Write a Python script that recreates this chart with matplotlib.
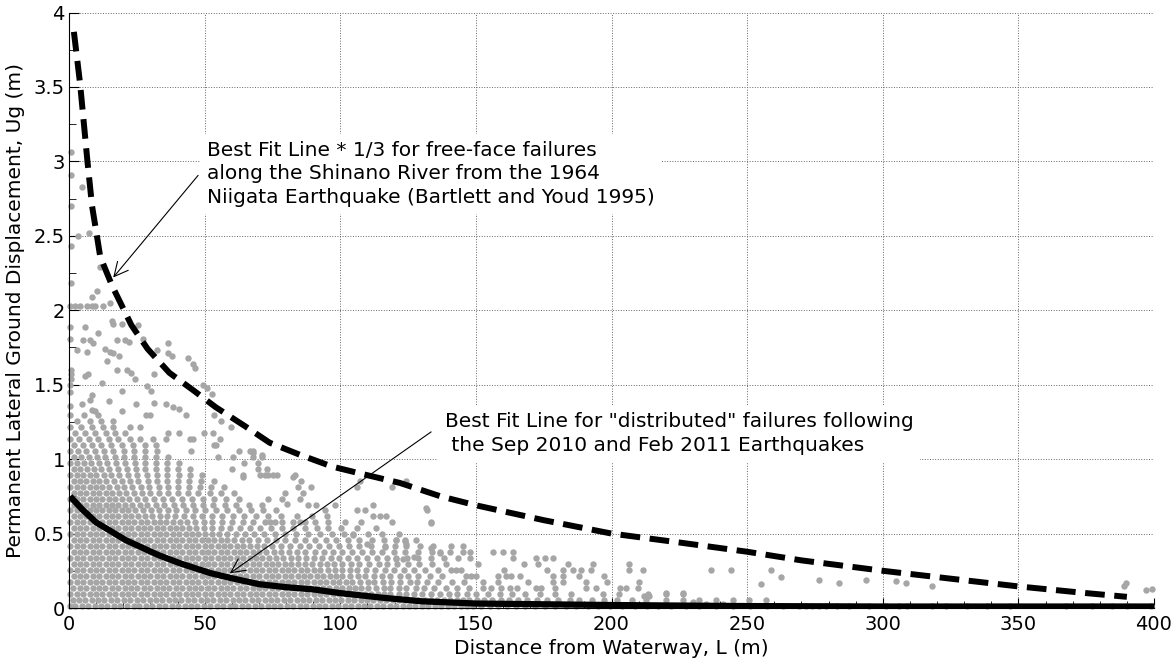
import matplotlib
matplotlib.use('Agg')
from matplotlib import pyplot as plt
from matplotlib.ticker import MultipleLocator

# best fit line * 1/3, free-face failures, Shinano River
bf_x = [1.8, 4.1, 6.8, 8.5, 10.2, 11.5, 16, 23, 29, 37, 46, 54, 65, 74, 85, 97, 107,
        122, 137, 150, 175, 200, 225, 250, 270, 300, 325, 350, 375, 390]
bf_y = [3.87, 3.52, 3.0, 2.70, 2.51, 2.36, 2.16, 1.90, 1.74, 1.58, 1.46, 1.35, 1.22, 1.11,
        1.03, 0.95, 0.905, 0.84, 0.75, 0.69, 0.59, 0.50, 0.44, 0.378, 0.32, 0.25, 0.197,
        0.145, 0.10, 0.075]

# best fit line for "distributed" failures
df_x = [0.4, 5, 10, 21, 33, 41, 52, 60, 70, 80, 90, 100, 115, 130, 150, 175, 200, 250,
        300, 350, 400]
df_y = [0.75, 0.66, 0.575, 0.455, 0.355, 0.30, 0.235, 0.20, 0.16, 0.14, 0.125, 0.10, 0.07,
        0.045, 0.03, 0.025, 0.02, 0.013, 0.01, 0.01, 0.01]

# measured displacements, dense part kept as rows: one y level, many x positions
row_y = [0.015, 0.055, 0.095, 0.135, 0.175, 0.215, 0.255, 0.295, 0.335, 0.375, 0.415,
         0.455, 0.495, 0.535, 0.575, 0.615, 0.655, 0.695, 0.735, 0.775, 0.815, 0.855,
         0.895, 0.935, 0.975, 1.015, 1.055, 1.095, 1.135, 1.175, 1.215, 1.255, 1.295]
row_x = [
    [0.4, 2.3, 4.9, 7.0, 9.6, 11.8, 14.1, 16.7, 18.9, 21.3, 23.8, 25.9, 28.4, 30.6, 33.2,
     35.3, 37.9, 40.1, 42.6, 44.8, 47.3, 49.6, 51.9, 54.4, 56.6, 59.2, 61.3, 63.8, 66.1,
     68.5, 70.9, 73.2, 75.7, 77.9, 80.4, 82.6, 85.1, 87.4, 89.8, 92.2, 94.5, 97.0, 99.2,
     101.7, 104.0, 106.4, 108.8, 111.1, 113.6, 115.8, 118.3, 120.6, 123.0, 125.4, 127.7,
     130.2, 132.5, 134.9, 137.3, 139.6, 142.1, 144.4, 146.9, 149.1, 152.0, 155.3, 158.2,
     161.6, 164.8, 168.0, 171.9, 175.4, 179.0, 183.2, 186.9, 191.3, 195.1, 199.6, 203.7,
     208.5, 213.0, 217.2, 221.9, 227.5, 232.1, 238.4, 244.7, 251.0, 257.3, 263.1, 269.2,
     271.7, 274.1, 276.6, 279.0, 283.3, 287.6, 295.0, 301.1, 306.0, 309.1, 318.3, 323.2,
     331.2, 338.5, 347.0, 367.4, 377.2, 384.6, 390.1, 399.0],
    [1.3, 3.6, 6.0, 8.4, 10.7, 13.0, 15.5, 17.8, 20.1, 22.6, 24.9, 27.2, 29.7, 32.0, 34.3,
     36.7, 39.1, 41.4, 43.9, 46.1, 48.5, 50.9, 53.2, 55.6, 57.9, 60.3, 62.7, 65.0, 67.4,
     69.7, 72.1, 74.5, 76.8, 79.2, 81.5, 83.9, 86.3, 88.6, 91.0, 93.3, 95.7, 98.1, 100.4,
     102.8, 105.1, 107.5, 109.9, 112.2, 114.6, 116.9, 119.3, 121.7, 124.0, 126.4, 128.7,
     131.1, 133.5, 135.8, 138.2, 140.5, 142.9, 145.3, 147.6, 150.3, 153.0, 156.1, 159.4,
     162.2, 165.6, 168.9, 172.5, 176.3, 180.1, 184.6, 188.0, 192.7, 197.2, 201.9, 207.4,
     212.8, 220.1, 226.3, 232.4, 238.5, 244.7, 250.8, 257.0],
    [0.5, 2.8, 5.2, 7.6, 9.9, 12.3, 14.7, 17.0, 19.4, 21.7, 24.1, 26.5, 28.8, 31.2, 33.5,
     35.9, 38.3, 40.6, 43.0, 45.3, 47.7, 50.1, 52.4, 54.8, 57.1, 59.5, 61.9, 64.2, 66.6,
     68.9, 71.3, 73.7, 76.0, 78.4, 80.7, 83.1, 85.5, 87.8, 90.2, 92.5, 94.9, 97.3, 99.6,
     102.0, 104.3, 106.7, 109.1, 111.4, 113.8, 116.1, 118.5, 121.5, 124.2, 127.3, 130.1,
     133.4, 136.6, 140.2, 143.0, 146.8, 150.1, 154.5, 158.9, 163.4, 168.2, 173.6, 179.0,
     185.0, 196.8, 202.9, 213.4, 220.1, 226.3],
    [1.6, 4.0, 6.3, 8.7, 11.1, 13.4, 15.8, 18.1, 20.5, 22.9, 25.2, 27.6, 29.9, 32.3, 34.7,
     37.0, 39.4, 41.7, 44.1, 46.5, 48.8, 51.2, 53.5, 55.9, 58.3, 60.6, 63.0, 65.3, 67.7,
     70.1, 72.4, 74.8, 77.1, 79.5, 81.9, 84.2, 86.6, 88.9, 91.3, 93.7, 96.0, 98.4, 100.7,
     103.1, 105.5, 107.8, 110.2, 113.1, 116.0, 118.4, 121.6, 124.3, 127.8, 131.0, 134.5,
     138.9, 143.1, 147.3, 152.6, 155.6, 159.3, 162.4, 165.0, 172.2, 174.1, 179.0, 190.6,
     194.3, 203.0, 205.4, 209.7],
    [0.5, 2.9, 5.3, 7.6, 10.0, 12.3, 14.7, 17.1, 19.4, 21.8, 24.1, 26.5, 28.9, 31.2, 33.6,
     35.9, 38.3, 40.7, 43.0, 45.4, 47.7, 50.1, 52.5, 54.8, 57.2, 59.5, 61.9, 64.3, 66.6,
     69.0, 71.3, 73.7, 76.1, 78.4, 80.8, 83.1, 85.5, 87.9, 90.2, 92.6, 94.9, 97.3, 99.7,
     102.0, 104.4, 107.3, 110.1, 112.6, 115.9, 118.7, 122.0, 125.6, 128.3, 131.9, 136.1,
     141.3, 145.6, 152.6, 158.1, 169.1, 178.3, 182.0, 190.6, 198.5, 210.3],
    [1.7, 4.1, 6.4, 8.8, 11.2, 13.5, 15.9, 18.2, 20.6, 23.0, 25.3, 27.7, 30.0, 32.4, 34.8,
     37.1, 39.5, 41.8, 44.2, 46.6, 48.9, 51.3, 53.6, 56.0, 58.4, 60.7, 63.1, 65.4, 67.8,
     70.2, 72.5, 74.9, 77.2, 79.6, 82.0, 84.3, 86.7, 89.0, 91.4, 93.8, 96.1, 98.5, 100.8,
     103.6, 106.5, 109.1, 112.4, 115.3, 118.2, 121.9, 125.0, 128.6, 133.0, 137.4, 146.4,
     148.3, 150.1, 158.1, 161.2, 163.0, 166.1, 178.3, 182.0, 188.2, 197.4],
    [0.5, 2.9, 5.3, 7.6, 10.0, 12.3, 14.7, 17.1, 19.4, 21.8, 24.1, 26.5, 28.9, 31.2, 33.6,
     35.9, 38.3, 40.7, 43.0, 45.4, 47.7, 50.1, 52.5, 54.8, 57.2, 59.5, 61.9, 64.3, 66.6,
     69.0, 71.3, 73.7, 76.1, 78.4, 80.8, 83.1, 85.5, 87.9, 90.2, 92.6, 95.3, 98.0, 100.6,
     103.7, 106.2, 109.5, 112.8, 116.4, 119.8, 123.5, 127.2, 131.4, 136.0, 140.9, 142.7,
     144.6, 160.5, 176.2, 182.1, 185.7, 188.8, 192.5, 206.6, 211.5, 236.7, 244.1, 258.8],
    [1.7, 4.1, 6.4, 8.8, 11.2, 13.5, 15.9, 18.2, 20.6, 23.0, 25.3, 27.7, 30.0, 32.4, 34.8,
     37.1, 39.5, 41.8, 44.2, 46.6, 48.9, 51.3, 53.6, 56.0, 58.4, 60.7, 63.1, 65.4, 67.8,
     70.2, 72.5, 74.9, 77.2, 79.6, 82.0, 84.3, 86.9, 89.6, 92.4, 95.0, 97.8, 100.8, 104.1,
     107.0, 110.5, 114.2, 117.4, 121.0, 125.1, 129.0, 134.0, 139.0, 150.7, 167.9, 172.8,
     183.9, 193.1, 206.6],
    [0.5, 2.9, 5.3, 7.6, 10.0, 12.3, 14.7, 17.1, 19.4, 21.8, 24.1, 26.5, 28.9, 31.2, 33.6,
     35.9, 38.3, 40.7, 43.0, 45.4, 47.7, 50.1, 52.5, 54.8, 57.2, 59.5, 61.9, 64.3, 66.6,
     69.0, 71.3, 73.7, 76.4, 79.0, 81.8, 84.5, 87.5, 90.3, 93.4, 96.6, 99.5, 103.0, 106.1,
     109.8, 113.4, 117.2, 120.7, 124.6, 128.8, 133.5, 138.2, 143.4, 148.0, 163.6, 172.2,
     175.3, 178.3],
    [1.7, 4.1, 6.4, 8.8, 11.2, 13.5, 15.9, 18.2, 20.6, 23.0, 25.3, 27.7, 30.0, 32.4, 34.8,
     37.1, 39.5, 41.8, 44.2, 46.6, 48.9, 51.3, 53.6, 56.0, 58.4, 60.7, 63.1, 65.4, 67.8,
     70.2, 72.8, 75.5, 78.1, 81.0, 84.2, 87.1, 90.6, 93.9, 97.3, 100.6, 104.4, 107.9,
     111.6, 115.5, 119.7, 124.0, 128.5, 133.9, 136.7, 140.3, 145.2, 147.7, 156.2, 159.9,
     163.6],
    [0.5, 2.9, 5.3, 7.6, 10.0, 12.3, 14.7, 17.1, 19.4, 21.8, 24.1, 26.5, 28.9, 31.2, 33.6,
     35.9, 38.3, 40.7, 43.0, 45.4, 47.7, 50.1, 52.5, 54.8, 57.2, 59.5, 61.9, 64.3, 66.6,
     69.3, 72.0, 75.0, 78.2, 81.6, 85.0, 88.3, 92.1, 95.7, 99.4, 103.1, 107.0, 111.2,
     116.4, 120.0, 124.4, 129.3, 134.2, 140.9, 145.2],
    [1.7, 4.1, 6.4, 8.8, 11.2, 13.5, 15.9, 18.2, 20.6, 23.0, 25.3, 27.7, 30.0, 32.4, 34.8,
     37.1, 39.5, 41.8, 44.2, 46.6, 48.9, 51.3, 53.6, 56.0, 58.4, 60.9, 63.6, 66.5, 69.6,
     72.9, 76.2, 79.8, 83.5, 87.1, 90.8, 94.6, 98.4, 102.8, 107.0, 111.7, 116.3, 120.7,
     123.8, 128.0],
    [0.5, 2.9, 5.3, 7.6, 10.0, 12.3, 14.7, 17.1, 19.4, 21.8, 24.1, 26.5, 28.9, 31.2, 33.6,
     35.9, 38.3, 40.7, 43.0, 45.4, 47.7, 50.1, 52.6, 55.3, 58.2, 61.4, 64.8, 68.3, 72.0,
     75.8, 79.6, 83.7, 88.0, 92.4, 96.8, 101.5, 104.8, 110.2, 115.3, 121.8],
    [1.7, 4.1, 6.4, 8.8, 11.2, 13.5, 15.9, 18.2, 20.6, 23.0, 25.3, 27.7, 30.0, 32.4, 34.8,
     37.1, 39.5, 41.8, 44.2, 46.9, 49.8, 52.7, 56.0, 59.4, 62.9, 66.6, 70.4, 74.5, 78.4,
     82.7, 87.0, 91.5, 95.5, 100.4, 106.0, 113.2],
    [0.5, 2.9, 5.3, 7.6, 10.0, 12.3, 14.7, 17.1, 19.4, 21.8, 24.1, 26.5, 28.9, 31.2, 33.6,
     35.9, 38.3, 40.9, 43.6, 46.5, 49.6, 52.8, 56.5, 60.2, 64.1, 68.0, 72.3, 74.1, 75.9,
     78.4, 82.7, 85.1, 87.0, 90.6, 95.5, 101.6, 107.8, 118.9, 133.6],
    [1.7, 4.1, 6.4, 8.8, 11.2, 13.5, 15.9, 18.2, 20.6, 23.0, 25.3, 27.9, 30.6, 33.4, 36.2,
     39.1, 42.3, 45.6, 49.0, 52.7, 56.4, 60.5, 64.6, 69.0, 73.5, 78.1, 84.0, 89.5, 95.0,
     112.1, 114.6, 117.0],
    [0.5, 2.9, 5.3, 7.6, 10.0, 12.3, 14.7, 17.1, 19.4, 21.8, 24.5, 27.2, 30.1, 33.2, 36.4,
     39.6, 43.0, 46.4, 50.2, 54.1, 58.2, 62.5, 67.0, 71.6, 76.2, 94.3, 106.0, 109.0, 131.8],
    [1.7, 4.1, 6.4, 8.8, 11.2, 13.5, 15.9, 18.2, 20.6, 23.2, 26.0, 28.9, 32.0, 35.2, 38.6,
     42.0, 45.6, 49.3, 53.2, 57.4, 61.7, 66.3, 71.0, 88.2, 91.2, 98.0, 112.1],
    [0.5, 2.9, 5.3, 7.6, 10.0, 12.3, 14.7, 17.1, 19.6, 22.3, 25.1, 28.2, 31.4, 34.8, 38.1,
     41.7, 45.5, 49.4, 53.5, 57.9, 62.5, 73.5, 78.4, 85.1],
    [1.7, 4.1, 6.4, 8.8, 11.2, 13.5, 15.9, 18.4, 21.1, 23.9, 26.8, 29.9, 33.1, 36.5, 40.0,
     43.8, 47.6, 51.8, 56.0, 60.7, 79.6, 86.3],
    [0.5, 2.9, 5.3, 7.6, 10.0, 12.3, 14.9, 17.6, 20.4, 23.3, 26.4, 29.6, 33.0, 36.5, 40.3,
     44.2, 48.3, 52.5, 57.0, 84.5, 89.4, 106.0, 118.9],
    [1.7, 4.1, 6.4, 8.8, 11.2, 13.8, 16.5, 19.4, 22.4, 25.6, 29.0, 32.6, 36.3, 40.2, 44.4,
     48.7, 53.3, 85.7, 107.2, 124.4],
    [0.5, 2.9, 5.3, 7.6, 10.1, 12.8, 15.6, 18.6, 21.8, 25.1, 28.6, 32.3, 36.2, 40.4, 44.6,
     49.1, 64.1, 70.4, 72.2, 73.5, 75.3, 76.5, 83.3],
    [1.7, 4.1, 6.5, 9.1, 11.9, 14.8, 17.9, 21.2, 24.6, 28.2, 32.0, 36.1, 40.2, 44.7, 60.0,
     69.8, 72.9],
    [0.5, 2.9, 5.5, 8.2, 11.0, 14.0, 17.2, 20.6, 24.2, 28.0, 31.9, 36.1, 40.5, 64.5, 69.8],
    [1.7, 4.4, 7.2, 10.2, 13.4, 16.8, 20.4, 24.1, 28.0, 32.1, 36.5, 55.0, 60.4, 67.9, 71.0],
    [0.5, 3.3, 6.3, 9.5, 12.9, 16.4, 20.1, 24.0, 28.1, 32.6, 45.0, 62.6, 66.9, 67.8],
    [1.9, 5.0, 8.4, 11.9, 15.6, 19.5, 23.6, 27.9, 32.1, 53.5, 54.1],
    [0.5, 3.7, 7.2, 10.8, 14.9, 18.2, 22.5, 26.1, 30.9, 35.6, 44.5, 45.7, 55.6],
    [2.2, 5.8, 9.6, 13.6, 17.0, 20.6, 36.5, 40.7, 49.8, 53.0],
    [0.5, 4.6, 8.4, 12.5, 16.4, 22.5, 26.0, 59.7],
    [3.0, 7.6, 11.8, 16.1, 56.1],
    [0.5, 5.6, 10.8, 28.5, 29.7, 43.2, 53.6],
]

# loose points read one by one (x in m, y in m)
loose_pts = [
    (0.7, 3.06), (0.7, 2.91), (4.8, 2.83), (0.7, 2.70), (3.3, 2.50), (7.4, 2.52),
    (0.7, 2.43), (11.4, 2.29), (0.7, 2.18), (10.3, 2.13), (8.5, 2.09), (0.4, 2.03),
    (2.2, 2.03), (4.0, 2.03), (6.6, 2.03), (8.5, 2.03), (9.6, 2.03), (12.5, 2.03),
    (15.1, 2.05), (15.8, 1.93), (16.2, 1.91), (19.5, 1.91), (25.4, 1.90), (5.9, 1.89),
    (0.4, 1.89), (10.7, 1.85), (0.4, 1.81), (5.3, 1.80), (7.7, 1.80), (9.0, 1.78),
    (17.7, 1.80), (20.8, 1.80), (22.0, 1.79), (27.3, 1.81), (36.5, 1.78), (13.3, 1.74),
    (2.9, 1.73), (6.6, 1.72), (15.1, 1.72), (16.3, 1.71), (18.4, 1.69), (14.1, 1.66),
    (32.4, 1.73), (36.5, 1.71), (37.8, 1.69), (43.8, 1.68), (45.7, 1.64), (46.4, 1.61),
    (0.6, 1.60), (0.6, 1.57), (0.6, 1.54), (5.9, 1.56), (7.1, 1.57), (17.7, 1.60),
    (21.4, 1.60), (22.7, 1.58), (24.5, 1.54), (31.3, 1.57), (12.2, 1.51), (28.6, 1.49),
    (30.4, 1.46), (49.4, 1.50), (50.8, 1.48), (52.7, 1.44), (19.6, 1.46), (8.4, 1.43),
    (7.8, 1.40), (14.9, 1.39), (24.7, 1.37), (31.5, 1.38), (35.8, 1.37), (38.2, 1.35),
    (40.7, 1.34), (4.7, 1.37), (8.4, 1.33), (9.6, 1.32), (19.6, 1.32), (0.5, 1.36),
    (0.5, 1.45), (0.5, 1.50), (67.9, 1.04), (71.0, 1.03), (64.1, 0.88), (82.6, 0.88),
    (80.2, 0.70), (104.8, 0.49), (109.7, 0.43), (116.4, 0.41), (120.7, 0.46), (123.7, 0.45),
    (124.4, 0.43), (133.6, 0.40), (136.7, 0.37), (131.7, 0.67), (133.6, 0.57), (120.7, 0.33),
    (123.2, 0.33), (127.2, 0.34), (255.1, 0.16), (262.5, 0.21), (226.3, 0.10), (220.1, 0.10),
    (214.0, 0.08), (212.1, 0.08), (229.9, 0.04), (234.8, 0.03), (241.0, 0.03),
    (276.6, 0.19), (283.9, 0.17), (293.8, 0.19), (304.8, 0.18), (308.5, 0.17),
    (318.1, 0.15), (388.9, 0.15), (389.5, 0.17), (396.9, 0.12), (399.3, 0.13),
]

txt_upper = ('Best Fit Line * 1/3 for free-face failures\n'
             'along the Shinano River from the 1964\n'
             'Niigata Earthquake (Bartlett and Youd 1995)')
txt_lower = ('Best Fit Line for "distributed" failures following\n'
             ' the Sep 2010 and Feb 2011 Earthquakes')

xticks = [0, 50, 100, 150, 200, 250, 300, 350, 400]
yticks = [0, 0.5, 1, 1.5, 2, 2.5, 3, 3.5, 4]
ytick_labels = ['0', '0.5', '1', '1.5', '2', '2.5', '3', '3.5', '4']

# collect all the points
pts_x = [p[0] for p in loose_pts]
pts_y = [p[1] for p in loose_pts]
for yy, xs in zip(row_y, row_x):
    pts_x += xs
    pts_y += [yy] * len(xs)

fig = plt.figure(figsize=(11.72, 6.63), dpi=100)
ax = fig.add_axes([69 / 1172, 55 / 663, 1085 / 1172, 595.5 / 663])

ax.plot(pts_x, pts_y, 'o', ms=4.6, color='#a6a6a6', mec='none', clip_on=False, zorder=2)
ax.plot(bf_x, bf_y, color='black', lw=4.3, dashes=(3.3, 1.6), dash_capstyle='butt', zorder=3)
ax.plot(df_x, df_y, color='black', lw=4.5, solid_capstyle='butt', zorder=3)

box = dict(boxstyle='square,pad=0.35', fc='white', ec='none')
ax.text(50.8, 2.917, txt_upper, ha='left', va='center', fontsize=14.5,
        linespacing=1.3, bbox=box, zorder=4)
ax.text(138.5, 1.172, txt_lower, ha='left', va='center', fontsize=14.5,
        linespacing=1.3, bbox=box, zorder=4)

arrow = dict(arrowstyle='->,head_length=0.5,head_width=0.25', lw=0.8, color='black',
             shrinkA=0, shrinkB=0, mutation_scale=20)
ax.annotate('', xy=(16.3, 2.22), xytext=(47.6, 2.906), arrowprops=arrow, zorder=5)
ax.annotate('', xy=(59.3, 0.233), xytext=(133.5, 1.183), arrowprops=arrow, zorder=5)

ax.set_xlim(0, 400)
ax.set_ylim(0, 4)
ax.set_xticks(xticks)
ax.set_yticks(yticks)
ax.set_yticklabels(ytick_labels)
ax.xaxis.set_minor_locator(MultipleLocator(10))
ax.yaxis.set_minor_locator(MultipleLocator(0.25))
ax.tick_params(which='both', direction='in', labelsize=14, color='black')
ax.tick_params(which='major', length=7)
ax.tick_params(which='minor', length=5)
ax.tick_params(axis='x', pad=5)
ax.tick_params(axis='y', pad=3)

ax.grid(True, which='major', ls=':', color='0.4', lw=0.7)
ax.set_axisbelow(True)
for side in ['top', 'right']:
    ax.spines[side].set_visible(False)
for side in ['left', 'bottom']:
    ax.spines[side].set_linewidth(0.8)

ax.set_xlabel('Distance from Waterway, L (m)', fontsize=14.5, labelpad=4)
ax.set_ylabel('Permanent Lateral Ground Displacement, Ug (m)', fontsize=14.5, labelpad=6)

plt.savefig('out.png', dpi=100)
